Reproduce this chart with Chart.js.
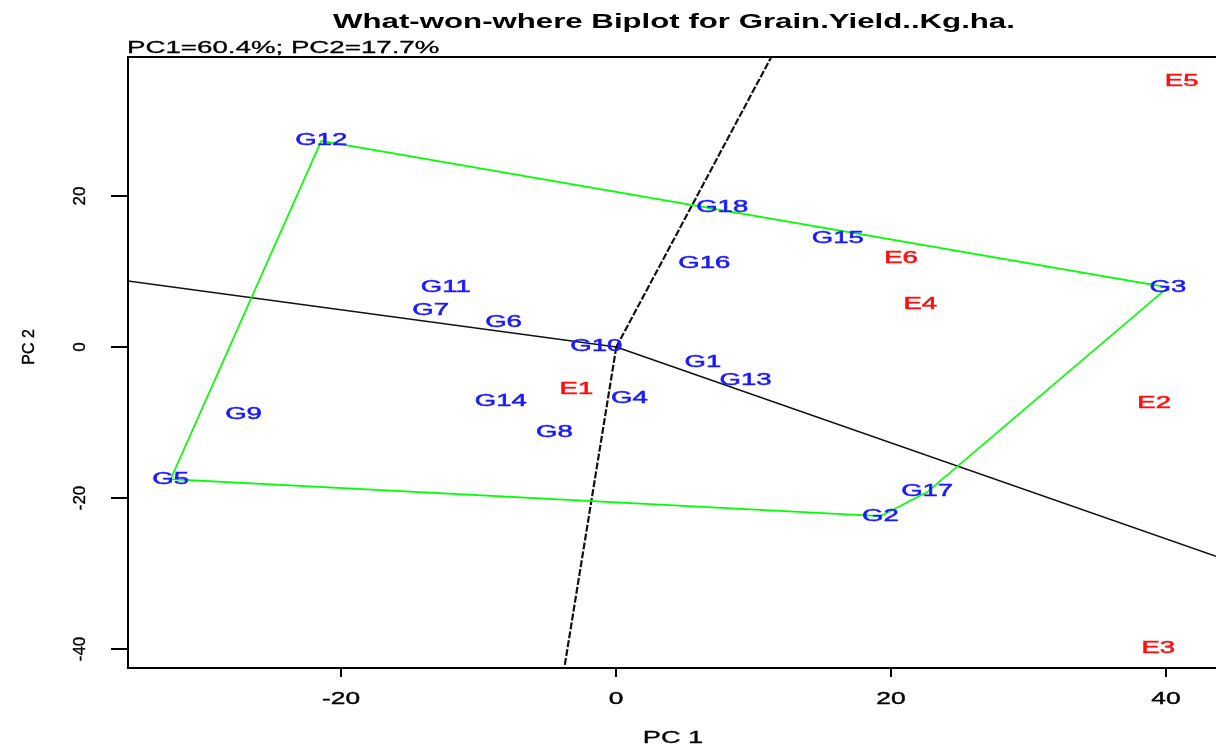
<!DOCTYPE html>
<html>
<head>
<meta charset="utf-8">
<title>What-won-where Biplot</title>
<script src="https://cdn.jsdelivr.net/npm/chart.js@4"></script>
<style>
  html, body { margin: 0; padding: 0; background: #ffffff; }
  canvas { display: block; }
</style>
</head>
<body>
<canvas id="biplot" width="1216" height="746"></canvas>
<script>
// Genotype scores on the first two principal components
const genotypes = ['G1','G2','G3','G4','G5','G6','G7','G8','G9','G10','G11','G12','G13','G14','G15','G16','G17','G18'];
const genoPC1   = [6.3, 19.2, 40.1, 0.95, -32.4, -8.2, -13.5, -4.5, -27.1, -1.45, -12.4, -21.45, 9.4, -8.4, 16.1, 6.4, 22.6, 7.7];
const genoPC2   = [-2.1, -22.4, 7.9, -6.8, -17.5, 3.2, 4.8, -11.3, -8.9, 0.1, 7.9, 27.3, -4.4, -7.2, 14.4, 11.0, -19.2, 18.5];

// Environment scores
const environments = ['E1','E2','E3','E4','E5','E6'];
const envPC1       = [-2.9, 39.1, 39.4, 22.1, 41.1, 20.7];
const envPC2       = [-5.6, -7.5, -39.9, 5.6, 35.1, 11.7];

// Vertex genotypes of the polygon, in drawing order
const hullVertices = ['G12', 'G3', 'G17', 'G2', 'G5'];

// Sector boundaries: rays from the origin, perpendicular to the polygon sides
const rayPC1 = [-35.5, 11.27, 43.6, -3.78];
const rayPC2 = [8.74, 38.4, -27.7, -42.5];

// Axis ranges and tick labels
const xRange = [-35.5, 43.6];
const yRange = [-42.5, 38.4];
const xTicks = [-20, 0, 20, 40];
const yTicks = [-40, -20, 0, 20];

const titleText    = 'What-won-where Biplot for Grain.Yield..Kg.ha.';
const subtitleText = 'PC1=60.4%; PC2=17.7%';
const xTitle = 'PC 1';
const yTitle = 'PC 2';

const FONT = '"Liberation Sans", Arial, Helvetica, sans-serif';

const hullData = hullVertices.map(g => {
  const i = genotypes.indexOf(g);
  return { x: genoPC1[i], y: genoPC2[i] };
});
hullData.push(hullData[0]);

const rayDatasets = rayPC1.map((x, i) => {
  const steep = Math.abs(rayPC2[i]) > Math.abs(x) * 2;
  return {
    data: [{ x: 0, y: 0 }, { x: x, y: rayPC2[i] }],
    showLine: true,
    borderColor: '#111111',
    borderWidth: steep ? 2.2 : 1.5,
    borderDash: steep ? [7, 2] : [],
    pointRadius: 0,
    fill: false
  };
});

// Horizontally widened text, drawn around an anchor point
function wideText(ctx, text, x, y, font, color, sx, align, baseline, weight) {
  ctx.save();
  ctx.font = font;
  ctx.fillStyle = color;
  ctx.strokeStyle = color;
  ctx.textAlign = align || 'center';
  ctx.textBaseline = baseline || 'alphabetic';
  ctx.translate(x, y);
  ctx.scale(sx, 1);
  ctx.fillText(text, 0, 0);
  if (weight) {
    ctx.lineWidth = weight;
    ctx.strokeText(text, 0, 0);
  }
  ctx.restore();
}

function verticalText(ctx, text, x, y, font, color) {
  ctx.save();
  ctx.font = font;
  ctx.fillStyle = color;
  ctx.strokeStyle = color;
  ctx.lineWidth = 0.4;
  ctx.textAlign = 'center';
  ctx.textBaseline = 'middle';
  ctx.translate(x, y);
  ctx.rotate(-Math.PI / 2);
  ctx.fillText(text, 0, 0);
  ctx.strokeText(text, 0, 0);
  ctx.restore();
}

const biplotDecor = {
  id: 'biplotDecor',
  afterDatasetsDraw(chart) {
    const ctx = chart.ctx;
    const xs = chart.scales.x, ys = chart.scales.y;
    const area = chart.chartArea;
    ctx.save();
    ctx.beginPath();
    ctx.rect(area.left, area.top, area.right - area.left, area.bottom - area.top);
    ctx.clip();
    genotypes.forEach((g, i) => {
      wideText(ctx, g, xs.getPixelForValue(genoPC1[i]), ys.getPixelForValue(genoPC2[i]),
        '16px ' + FONT, '#1a1aff', 1.72, 'center', 'middle', 0.5);
    });
    environments.forEach((e, i) => {
      wideText(ctx, e, xs.getPixelForValue(envPC1[i]), ys.getPixelForValue(envPC2[i]),
        '16px ' + FONT, '#ff1010', 1.72, 'center', 'middle', 0.5);
    });
    ctx.restore();
  },
  afterDraw(chart) {
    const ctx = chart.ctx;
    const xs = chart.scales.x, ys = chart.scales.y;
    const { left, top, right, bottom } = chart.chartArea;

    // plot frame
    ctx.save();
    ctx.strokeStyle = '#000000';
    ctx.lineWidth = 2;
    ctx.strokeRect(left, top, right - left + 4, bottom - top);

    // x axis ticks and labels
    xTicks.forEach(v => {
      const px = Math.round(xs.getPixelForValue(v));
      ctx.beginPath();
      ctx.moveTo(px, bottom);
      ctx.lineTo(px, bottom + 9);
      ctx.stroke();
      wideText(ctx, String(v), px, 704, '17px ' + FONT, '#000000', 1.55, 'center', 'alphabetic', 0.4);
    });

    // y axis ticks and labels
    yTicks.forEach(v => {
      const py = Math.round(ys.getPixelForValue(v));
      ctx.beginPath();
      ctx.moveTo(left - 17, py);
      ctx.lineTo(left, py);
      ctx.stroke();
      verticalText(ctx, String(v), 80, py, '17px ' + FONT, '#000000');
    });
    ctx.restore();

    // titles
    wideText(ctx, titleText, 674, 28, 'bold 20px ' + FONT, '#000000', 1.56, 'center', 'alphabetic');
    wideText(ctx, subtitleText, 127, 53, '16px ' + FONT, '#000000', 1.73, 'left', 'alphabetic', 0.3);
    wideText(ctx, xTitle, 673, 743, '16px ' + FONT, '#000000', 1.7, 'center', 'alphabetic', 0.3);
    verticalText(ctx, yTitle, 30, 347, '16px ' + FONT, '#000000');
  }
};

new Chart(document.getElementById('biplot'), {
  type: 'scatter',
  data: {
    datasets: [
      {
        data: hullData,
        showLine: true,
        borderColor: '#00ff00',
        borderWidth: 1.7,
        pointRadius: 0,
        fill: false
      },
      ...rayDatasets
    ]
  },
  options: {
    responsive: false,
    animation: false,
    events: [],
    layout: { padding: { left: 128, top: 57, right: 0, bottom: 78 } },
    scales: {
      x: { type: 'linear', min: xRange[0], max: xRange[1], display: false },
      y: { type: 'linear', min: yRange[0], max: yRange[1], display: false }
    },
    plugins: {
      legend: { display: false },
      tooltip: { enabled: false },
      title: { display: false }
    }
  },
  plugins: [biplotDecor]
});
</script>
</body>
</html>
